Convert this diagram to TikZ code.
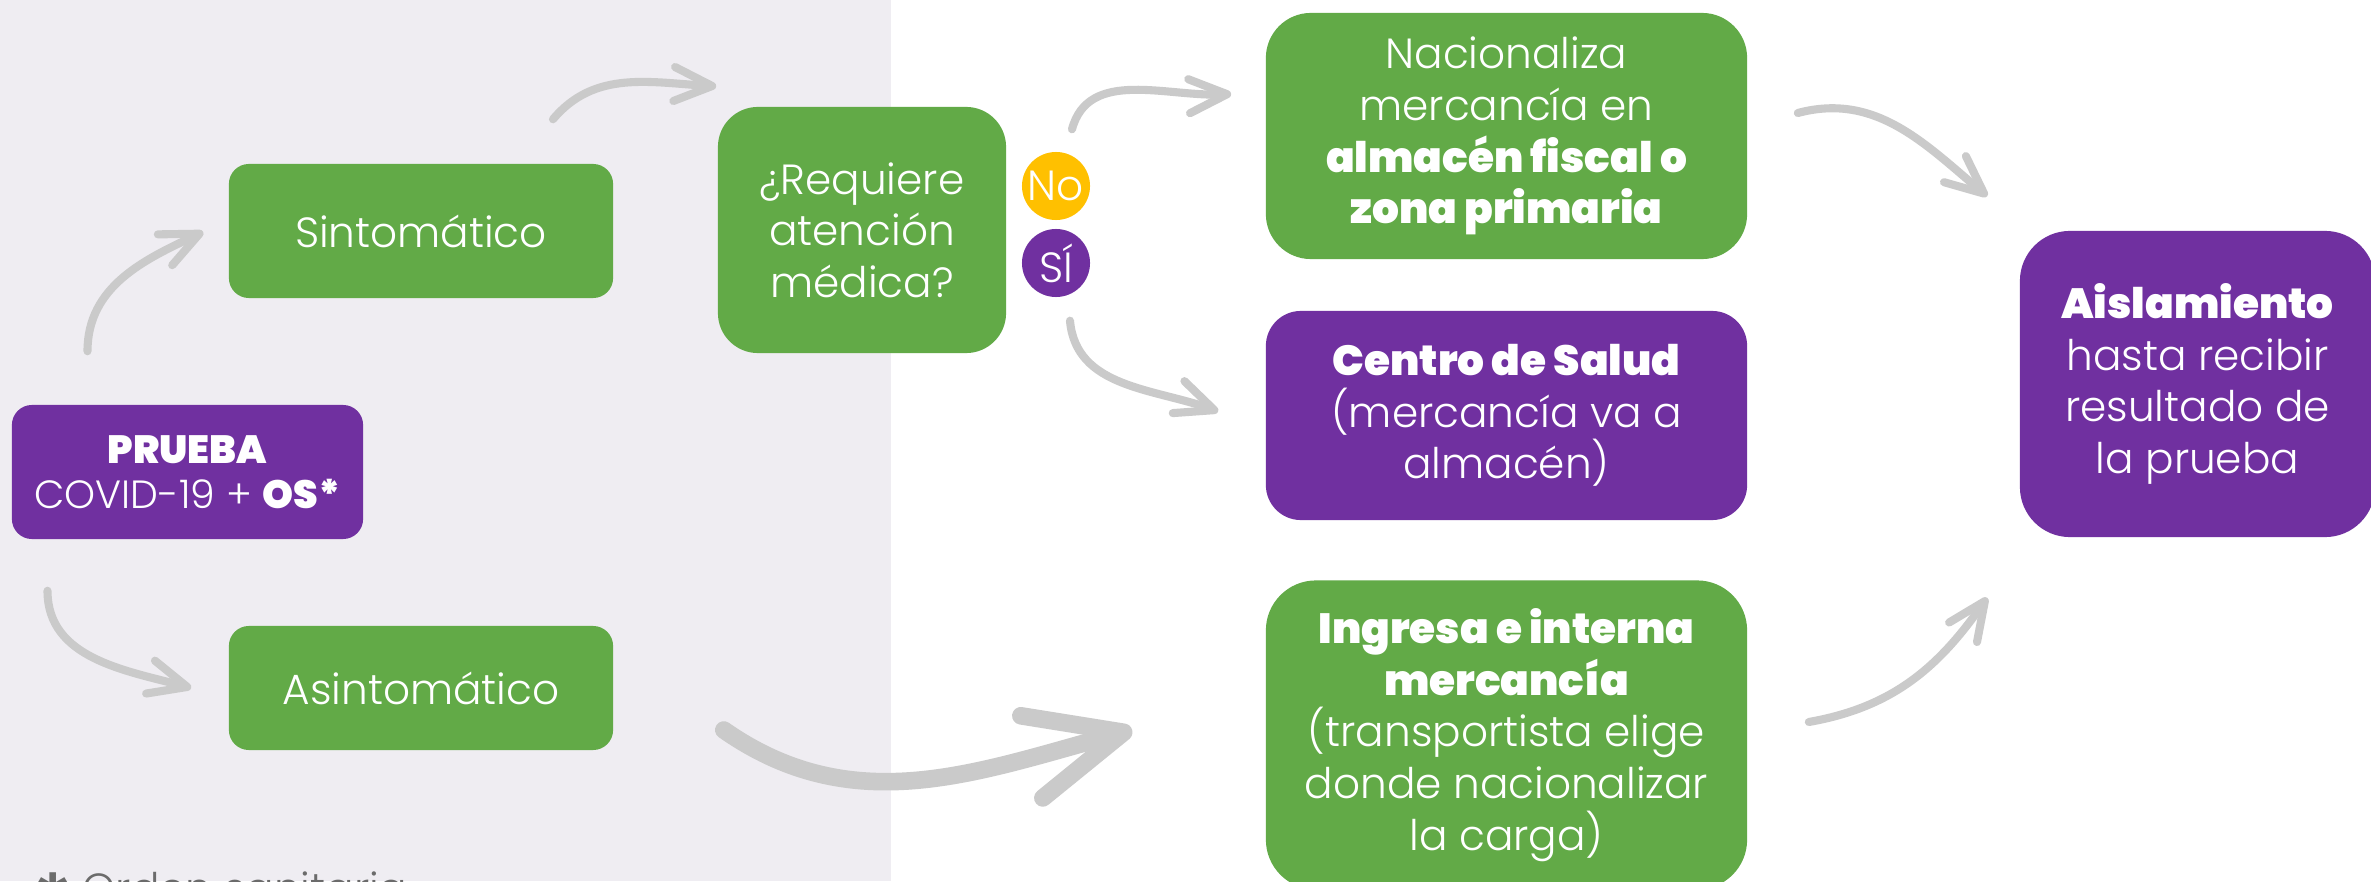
\documentclass[tikz,border=0pt]{standalone}
\usepackage{fontspec}
\IfFontExistsTF{Poppins Light}{\setmainfont{Poppins Light}}{\setmainfont{Poppins}}
\IfFontExistsTF{Poppins Black}{\newfontfamily\heavy{Poppins Black}}{\newfontfamily\heavy{Poppins}[FakeBold=3]}
\newfontfamily\symb{DejaVu Sans}
\usetikzlibrary{arrows.meta}

\definecolor{verde}{HTML}{62AA47}
\definecolor{morado}{HTML}{7030A0}
\definecolor{amarillo}{HTML}{FFC000}
\definecolor{fondo}{HTML}{EFEDF2}
\definecolor{flecha}{HTML}{CACACA}
\definecolor{gristxt}{HTML}{6B6B6B}

\newcommand{\hv}[1]{{\heavy #1}}

\begin{document}
\begin{tikzpicture}[x=0.01cm, y=0.01cm,
  card/.style = {rounded corners=0.2cm, text=white, align=center, inner sep=0pt,
                 font=\fontsize{12}{14.7}\selectfont},
  greenbox/.style = {card, fill=verde},
  purplebox/.style = {card, fill=morado},
  answer/.style = {circle, text=white, minimum size=0.68cm, inner sep=0pt,
                   font=\fontsize{12}{13}\selectfont},
  flow/.style = {draw=flecha, line width=2.3pt, line cap=round,
                 -{Straight Barb[length=0.38cm, width=0.34cm, round]}},
  bigflow/.style = {flow, line width=5pt,
                    -{Straight Barb[length=0.95cm, width=0.85cm, round]}}]
  \useasboundingbox (0,0) rectangle (2371,881);
  \fill[white] (0,0) rectangle (2371,881);
  \fill[fondo] (0,0) rectangle (891,881);

  \node[purplebox, minimum width=3.51cm, minimum height=1.34cm, font=\fontsize{11.2}{12.8}\selectfont]
    (prueba) at (187.5,409) {\hv{PRUEBA}\\COVID-19 + \hv{OS*}};
  \node[greenbox, minimum width=3.84cm, minimum height=1.34cm] (sint) at (421,650) {Sintomático};
  \node[greenbox, minimum width=3.84cm, minimum height=1.24cm] (asint) at (421,193) {Asintomático};
  \node[greenbox, rounded corners=0.4cm, minimum width=2.88cm, minimum height=2.46cm]
    (req) at (862,651) {¿Requiere\\atención\\médica?};
  \node[answer, fill=amarillo] (no) at (1056,695) {No};
  \node[answer, fill=morado] (si) at (1056,618) {SÍ};
  \node[greenbox, rounded corners=0.45cm, minimum width=4.81cm, minimum height=2.46cm]
    (nac) at (1506.5,745) {Nacionaliza\\mercancía en\\\hv{almacén fiscal o}\\\hv{zona primaria}};
  \node[purplebox, rounded corners=0.35cm, minimum width=4.81cm, minimum height=2.09cm]
    (centro) at (1506.5,465.5) {\hv{Centro de Salud}\\(mercancía va a\\almacén)};
  \node[greenbox, rounded corners=0.5cm, minimum width=4.81cm, minimum height=3.09cm]
    (ingresa) at (1506.5,146) {\hv{Ingresa e interna}\\\hv{mercancía}\\(transportista elige\\donde nacionalizar\\la carga)};
  \node[purplebox, rounded corners=0.5cm, minimum width=3.55cm, minimum height=3.06cm]
    (aisl) at (2197.5,497) {\hv{Aislamiento}\\hasta recibir\\resultado de\\la prueba};
  \node[anchor=base west, text=gristxt, inner sep=0pt, font=\fontsize{12}{14}\selectfont]
    (nota) at (35,-22) {{\symb ✱} Orden sanitaria};

  \draw[flow] ([shift={(-100,53)}]prueba.north) to[out=90,in=205] ([shift={(-25,-1)}]sint.west);
  \draw[flow] ([shift={(-140,-51)}]prueba.south) to[out=-90,in=165] ([shift={(-37,0)}]asint.west);
  \draw[flow] ([shift={(132,44)}]sint.north) to[out=50,in=177] ([shift={(-1,20)}]req.north west);
  \draw[flow] ([shift={(16,22)}]no.north) to[out=75,in=183] ([shift={(-34,42)}]nac.west);
  \draw[flow] ([shift={(14,-23)}]si.south) to[out=-85,in=160] ([shift={(-47,4)}]centro.west);
  \draw[bigflow] ([shift={(110,-42)}]asint.east) to[out=-35,in=195] ([shift={(-133,5)}]ingresa.west);
  \draw[flow] ([shift={(50,23)}]nac.east) to[out=15,in=140] ([shift={(-32,34)}]aisl.north west);
  \draw[flow] ([shift={(61,13)}]ingresa.east) to[out=10,in=235] ([shift={(-32,-60)}]aisl.south west);
\end{tikzpicture}
\end{document}
